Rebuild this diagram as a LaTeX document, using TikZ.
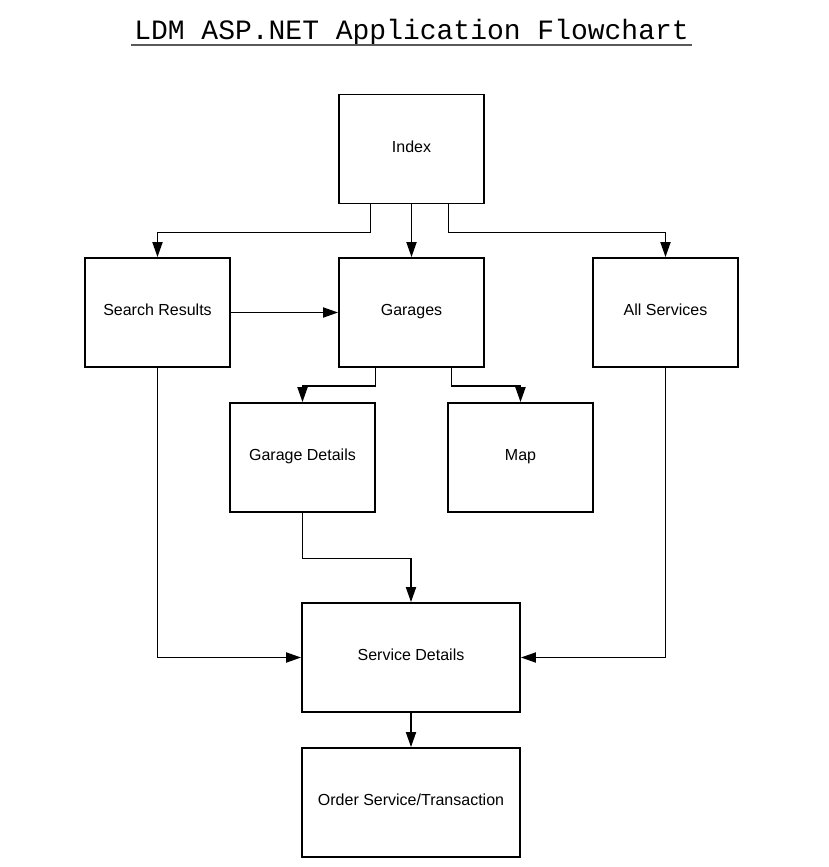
\documentclass[tikz,border=0pt]{standalone}
\usepackage{fontspec}
\setmainfont{Liberation Sans}
\newfontfamily\titlefont{Liberation Mono}
\usetikzlibrary{arrows.meta}
\usetikzlibrary{positioning}

\begin{document}
\begin{tikzpicture}[x=1pt,y=-1pt]
	\tikzset{page/.style={draw,line width=1.8pt,minimum width=145pt,minimum height=109pt,inner sep=0pt,text height=11.5pt,text depth=5pt,font=\fontsize{16}{19}\selectfont},
	widepage/.style={page,minimum width=218pt},
	flow/.style={line width=1.8pt,-{Triangle[width=10pt,length=15pt]}}}
	\useasboundingbox (0,0) rectangle (828,867);
	\node[anchor=base,inner xsep=3pt,inner ysep=0pt,font=\titlefont\fontsize{28}{32}\selectfont] (title) at (411.5,40) {LDM ASP.NET Application Flowchart};
	\draw[line width=1.5pt,gray!70!black] ([yshift=-5pt]title.base west) -- ([yshift=-5pt]title.base east);
	\node[page] (index) at (411.5,149) {Index};
	\node[page] (search) at (157.5,312.5) {Search Results};
	\node[page] (garages) at (411.5,312.5) {Garages};
	\node[page] (allserv) at (665.5,312.5) {All Services};
	\node[page] (gdetails) at (302.5,457.5) {Garage Details};
	\node[page] (map) at (520.5,457.5) {Map};
	\node[widepage] (sdetails) at (411,657.5) {Service Details};
	\node[widepage] (order) at (411,802.5) {Order Service/Transaction};
	%\draw[flow] (index) -- (garages);
	\draw[flow] ([xshift=-41pt]index.south) -- ++(0,28) -| (search.north);
	\draw[flow] (index.south) -- (garages.north);
	\draw[flow] ([xshift=37pt]index.south) -- ++(0,28) -| (allserv.north);
	\draw[flow] (search.east) -- (garages.west);
	\draw[flow] ([xshift=-36pt]garages.south) -- ++(0,18) -| (gdetails.north);
	\draw[flow] ([xshift=40pt]garages.south) -- ++(0,18) -| (map.north);
	\draw[flow] (gdetails.south) -- ++(0,45.5) -| (sdetails.north);
	\draw[flow] (search.south) |- (sdetails.west);
	\draw[flow] (allserv.south) |- (sdetails.east);
	\draw[flow] (sdetails.south) -- (order.north);
\end{tikzpicture}
\end{document}
